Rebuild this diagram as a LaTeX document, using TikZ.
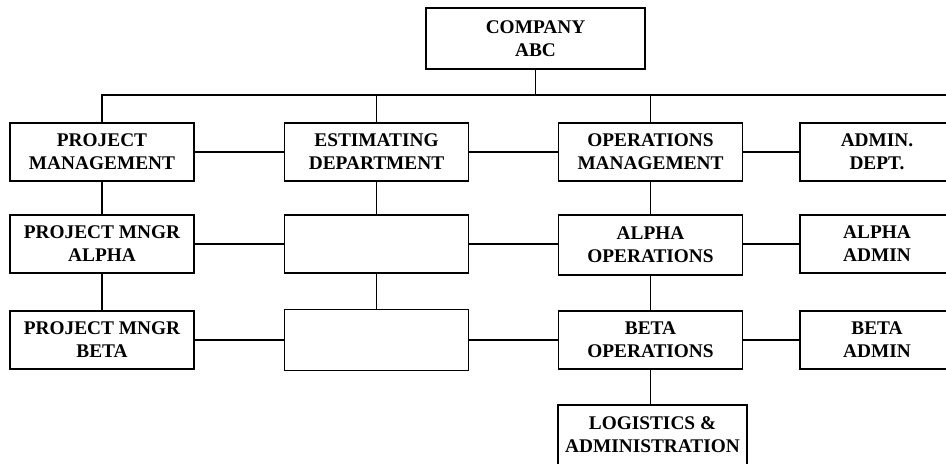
\documentclass[tikz,border=0pt]{standalone}
\usepackage{fontspec}
\setmainfont{Liberation Serif}
\begin{document}
\begin{tikzpicture}[x=0.02cm,y=-0.02cm,
	unit/.style={draw,line width=0.9pt,align=center,font=\fontsize{11}{13}\selectfont\bfseries,minimum width=3.68cm,minimum height=1.16cm,inner sep=0pt},
	adminunit/.style={unit,minimum width=3.08cm},
	link/.style={line width=0.9pt}]
	\useasboundingbox[fill=white] (0,0) rectangle (946,463);
	\node[unit,minimum width=4.38cm,minimum height=1.22cm] (company) at (535.5,38.5) {COMPANY\\ABC};
	\node[unit] (pm) at (102,152) {PROJECT\\MANAGEMENT};
	\node[unit] (est) at (376.5,152) {ESTIMATING\\DEPARTMENT};
	\node[unit] (ops) at (650.5,152) {OPERATIONS\\MANAGEMENT};
	\node[adminunit] (admin) at (877,152) {ADMIN.\\DEPT.};
	\node[unit] (pma) at (102,244) {PROJECT MNGR\\ALPHA};
	\node[unit] (esta) at (376.5,244) {};
	\node[unit,minimum height=1.2cm] (opsa) at (650.5,245) {ALPHA\\OPERATIONS};
	\node[adminunit] (admina) at (877,244) {ALPHA\\ADMIN};
	\node[unit] (pmb) at (102,340) {PROJECT MNGR\\BETA};
	\node[unit,minimum height=1.22cm] (estb) at (376.5,340) {};
	\node[unit] (opsb) at (650.5,340) {BETA\\OPERATIONS};
	\node[adminunit] (adminb) at (877,340) {BETA\\ADMIN};
	\node[unit,minimum width=3.78cm,minimum height=1.2cm] (logi) at (652.5,435) {LOGISTICS \&\\ADMINISTRATION};
	\coordinate (busend) at (946,95);
	\draw[link] (pm.north) |- (busend);
	\draw[link] (company.south) -- (company.south |- busend);
	\draw[link] (est.north) -- (est.north |- busend);
	\draw[link] (ops.north) -- (ops.north |- busend);
	\draw[link] (pm) -- (est);
	\draw[link] (est) -- (ops);
	\draw[link] (ops) -- (admin);
	\draw[link] (pma) -- (esta);
	\draw[link] (esta) -- (opsa.west |- esta);
	\draw[link] (opsa.east |- admina) -- (admina);
	\draw[link] (pmb) -- (estb);
	\draw[link] (estb) -- (opsb);
	\draw[link] (opsb) -- (adminb);
	\draw[link] (pm) -- (pma);
	\draw[link] (pma) -- (pmb);
	\draw[link] (est) -- (esta);
	\draw[link] (esta) -- (estb);
	\draw[link] (ops) -- (opsa);
	\draw[link] (opsa) -- (opsb);
	\draw[link] (opsb.south) -- (opsb.south |- logi.north);
\end{tikzpicture}
\end{document}
